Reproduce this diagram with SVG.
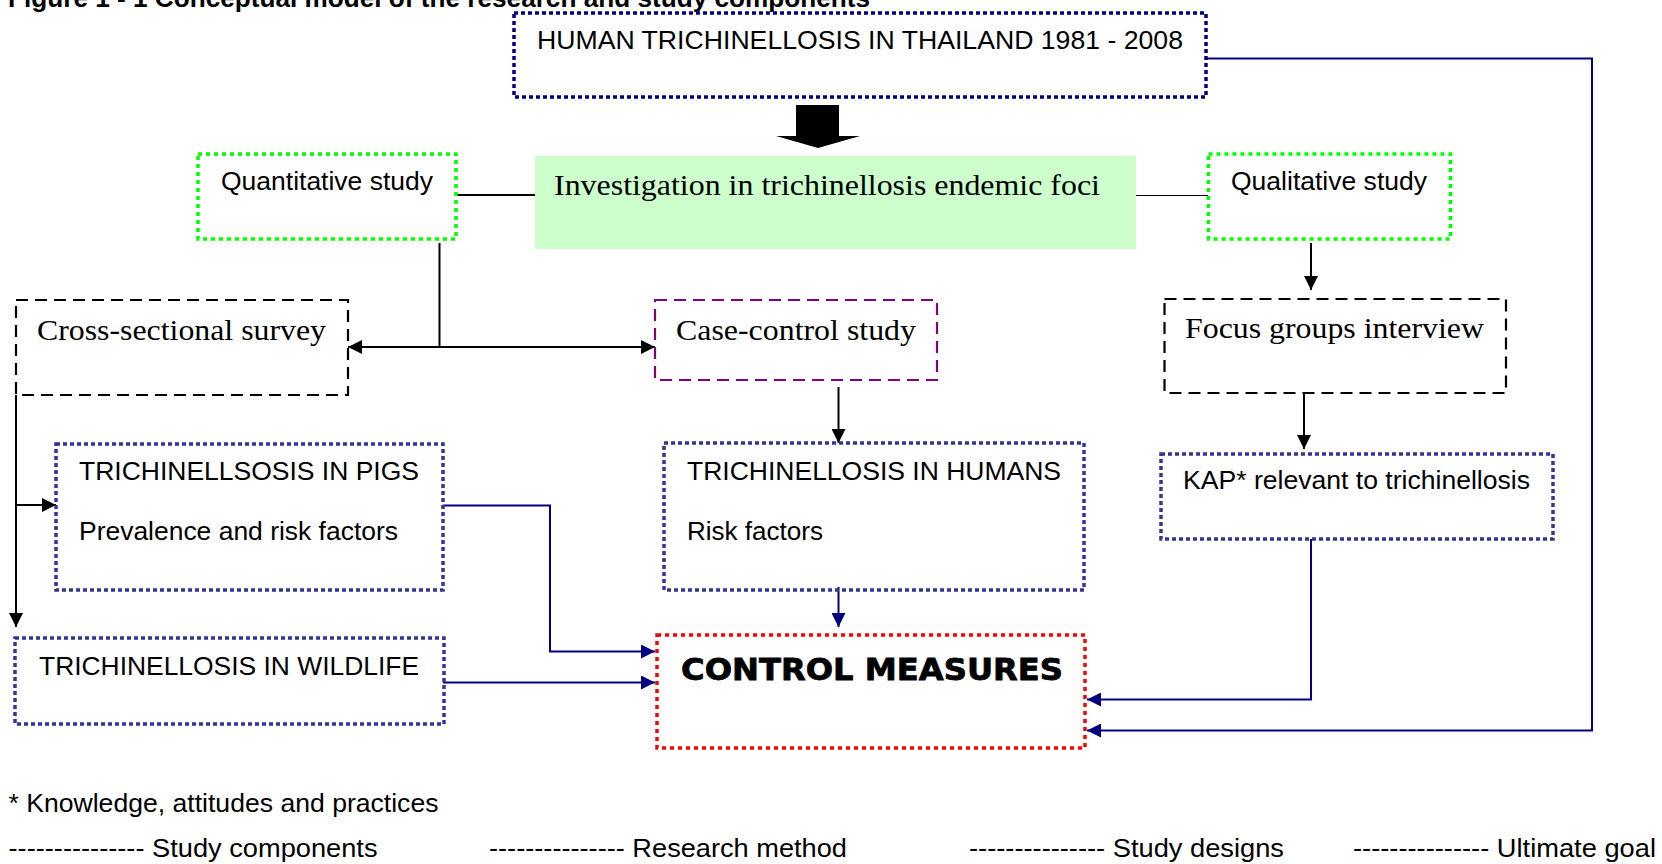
<svg xmlns="http://www.w3.org/2000/svg" width="1662" height="864" viewBox="0 0 1662 864">
<style>
  .sans { font-family: "Liberation Sans", Arial, sans-serif; font-size: 26px; fill: #000; }
  .serif { font-family: "Liberation Serif", "Times New Roman", serif; font-size: 30px; fill: #000; }
  .dotNavy { fill: none; stroke: #000080; stroke-width: 3.5; stroke-dasharray: 4 3; }
  .dotBlue { fill: none; stroke: #333399; stroke-width: 3.5; stroke-dasharray: 4 3; }
  .dotGreen { fill: none; stroke: #00FF00; stroke-width: 3.5; stroke-dasharray: 4 4; }
  .dotRed { fill: none; stroke: #FF0000; stroke-width: 3.5; stroke-dasharray: 4 4; }
  .dashBlack { fill: none; stroke: #000; stroke-width: 2.2; stroke-dasharray: 12 7; }
  .dashPurple { fill: none; stroke: #800080; stroke-width: 2.2; stroke-dasharray: 12 7; }
  .lnBlack { fill: none; stroke: #000; stroke-width: 2; }
  .lnThin { fill: none; stroke: #000; stroke-width: 1; }
  .lnNavy { fill: none; stroke: #000080; stroke-width: 2; }
  .arrB { marker-end: url(#headBlack); }
  .arrN { marker-end: url(#headNavy); }
</style>
<defs>
  <marker id="headBlack" viewBox="0 0 14 14" refX="14" refY="7" markerWidth="14" markerHeight="14" markerUnits="userSpaceOnUse" orient="auto-start-reverse">
    <path d="M0,0 L14,7 L0,14 z" fill="#000"/>
  </marker>
  <marker id="headNavy" viewBox="0 0 14 14" refX="14" refY="7" markerWidth="14" markerHeight="14" markerUnits="userSpaceOnUse" orient="auto-start-reverse">
    <path d="M0,0 L14,7 L0,14 z" fill="#000080"/>
  </marker>
</defs>
<rect x="0" y="0" width="1662" height="864" fill="#fff"/>

<g id="title">
  <text x="8" y="6.5" font-family="Liberation Sans, Arial, sans-serif" font-size="26" font-weight="bold" textLength="862" lengthAdjust="spacingAndGlyphs">Figure 1 - 1 Conceptual model of the research and study components</text>
</g>

<g id="connectors">
  <polygon points="796,105 839,105 839,136 860,136 818,148 776,136 796,136" fill="#000"/>
  <line class="lnBlack" x1="456" y1="195" x2="535" y2="195"/>
  <line class="lnThin" x1="1136" y1="195.5" x2="1208" y2="195.5"/>
  <line class="lnBlack" x1="439.5" y1="243" x2="439.5" y2="347"/>
  <line class="lnBlack" x1="348" y1="347" x2="655" y2="347" marker-start="url(#headBlack)" marker-end="url(#headBlack)"/>
  <line class="lnBlack arrB" x1="16" y1="395" x2="16" y2="627"/>
  <line class="lnBlack arrB" x1="16" y1="505" x2="56" y2="505"/>
  <line class="lnBlack arrB" x1="838.5" y1="387" x2="838.5" y2="443"/>
  <line class="lnBlack arrB" x1="1311" y1="243" x2="1311" y2="290"/>
  <line class="lnBlack arrB" x1="1304" y1="393" x2="1304" y2="449"/>
  <line class="lnNavy arrN" x1="838.5" y1="587" x2="838.5" y2="627"/>
  <path class="lnNavy arrN" d="M443,505.5 H550 V651.5 H655"/>
  <path class="lnNavy arrN" d="M443,682.5 H655"/>
  <path class="lnNavy arrN" d="M1311,539 V699.5 H1087"/>
  <path class="lnNavy arrN" d="M1207,58.5 H1592 V730.5 H1087"/>
</g>

<g id="human-trichinellosis-thailand">
  <rect class="dotNavy" x="514" y="13" width="692" height="84"/>
  <text class="sans" x="537" y="49" textLength="646" lengthAdjust="spacingAndGlyphs">HUMAN TRICHINELLOSIS IN THAILAND 1981 - 2008</text>
</g>

<g id="investigation">
  <rect x="535" y="156" width="601" height="93" fill="#CCFFCC"/>
  <text class="serif" x="554" y="195" textLength="546" lengthAdjust="spacingAndGlyphs">Investigation in trichinellosis endemic foci</text>
</g>

<g id="quantitative">
  <rect class="dotGreen" x="198" y="154" width="258" height="85"/>
  <text class="sans" x="221" y="190" textLength="212" lengthAdjust="spacingAndGlyphs">Quantitative study</text>
</g>

<g id="qualitative">
  <rect class="dotGreen" x="1208.5" y="154" width="242" height="85"/>
  <text class="sans" x="1231" y="190" textLength="196" lengthAdjust="spacingAndGlyphs">Qualitative study</text>
</g>

<g id="cross-sectional">
  <rect class="dashBlack" x="16" y="300" width="332" height="95"/>
  <text class="serif" x="37" y="340" textLength="289" lengthAdjust="spacingAndGlyphs">Cross-sectional survey</text>
</g>

<g id="case-control">
  <rect class="dashPurple" x="655" y="300" width="282" height="80"/>
  <text class="serif" x="676" y="340" textLength="240" lengthAdjust="spacingAndGlyphs">Case-control study</text>
</g>

<g id="focus-groups">
  <rect class="dashBlack" x="1164.5" y="299" width="341.5" height="94"/>
  <text class="serif" x="1185" y="338" textLength="299" lengthAdjust="spacingAndGlyphs">Focus groups interview</text>
</g>

<g id="pigs">
  <rect class="dotBlue" x="56" y="444" width="387" height="146"/>
  <text class="sans" x="79" y="480" textLength="340" lengthAdjust="spacingAndGlyphs">TRICHINELLSOSIS IN PIGS</text>
  <text class="sans" x="79" y="540" textLength="319" lengthAdjust="spacingAndGlyphs">Prevalence and risk factors</text>
</g>

<g id="humans">
  <rect class="dotBlue" x="664" y="443" width="420" height="147"/>
  <text class="sans" x="687" y="480" textLength="374" lengthAdjust="spacingAndGlyphs">TRICHINELLOSIS IN HUMANS</text>
  <text class="sans" x="687" y="540" textLength="136" lengthAdjust="spacingAndGlyphs">Risk factors</text>
</g>

<g id="kap">
  <rect class="dotBlue" x="1161" y="454" width="392" height="85"/>
  <text class="sans" x="1183" y="489" textLength="347" lengthAdjust="spacingAndGlyphs">KAP* relevant to trichinellosis</text>
</g>

<g id="wildlife">
  <rect class="dotBlue" x="15" y="638" width="429" height="86"/>
  <text class="sans" x="39" y="675" textLength="380" lengthAdjust="spacingAndGlyphs">TRICHINELLOSIS IN WILDLIFE</text>
</g>

<g id="control-measures">
  <rect class="dotRed" x="657" y="635" width="428" height="113"/>
  <text x="681" y="680" font-family="DejaVu Sans, Liberation Sans, sans-serif" font-size="31" font-weight="bold" stroke="#000" stroke-width="0.8" textLength="382" lengthAdjust="spacingAndGlyphs">CONTROL MEASURES</text>
</g>

<g id="legend">
  <text class="sans" x="8.5" y="812" textLength="430" lengthAdjust="spacingAndGlyphs">* Knowledge, attitudes and practices</text>
  <text class="sans" x="8.5" y="857" textLength="369" lengthAdjust="spacingAndGlyphs">--------------- Study components</text>
  <text class="sans" x="489" y="857" textLength="358" lengthAdjust="spacingAndGlyphs">--------------- Research method</text>
  <text class="sans" x="969" y="857" textLength="315" lengthAdjust="spacingAndGlyphs">--------------- Study designs</text>
  <text class="sans" x="1353" y="857" textLength="303" lengthAdjust="spacingAndGlyphs">--------------- Ultimate goal</text>
</g>
</svg>
